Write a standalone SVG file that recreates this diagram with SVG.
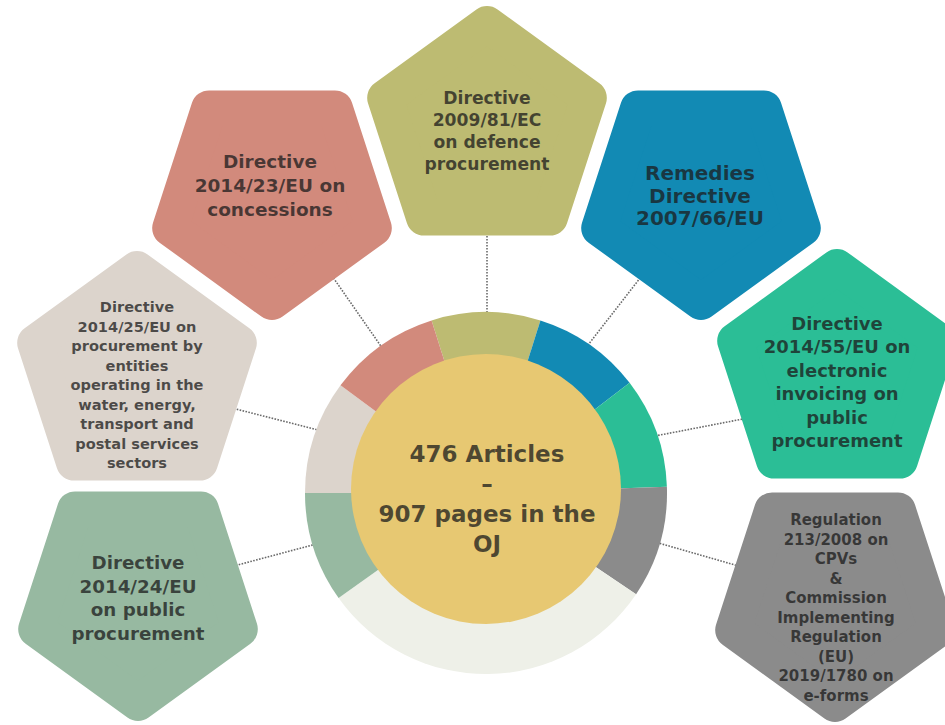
<svg xmlns="http://www.w3.org/2000/svg" width="945" height="725" viewBox="0 0 945 725">
<style>
.t{font-family:"DejaVu Sans","Liberation Sans",sans-serif;font-weight:700;text-anchor:middle;fill:#1c1c1c;fill-opacity:.76}
.shape{stroke-width:36;stroke-linejoin:round}
.conn{stroke:#6a6a6a;stroke-width:1.6;stroke-dasharray:1.6 1.4;fill:none}
</style>
<defs>
<polygon id="pd" points="0,107 -101.8,33.1 -62.9,-86.6 62.9,-86.6 101.8,33.1"/>
<polygon id="pu" points="0,-107 101.8,-33.1 62.9,86.6 -62.9,86.6 -101.8,-33.1"/>
</defs>
<rect width="945" height="725" fill="#ffffff"/>
<g id="connectors" class="conn">
<line x1="330" y1="273" x2="385" y2="352"/>
<line x1="487" y1="230" x2="487" y2="320"/>
<line x1="644" y1="273" x2="588" y2="345"/>
<line x1="748" y1="418" x2="655" y2="436"/>
<line x1="742" y1="567" x2="655" y2="542"/>
<line x1="228" y1="407" x2="322" y2="431"/>
<line x1="230" y1="567" x2="320" y2="543"/>
</g>
<g id="donut">
<path d="M486,493 L431.6,320.4 A181,181 0 0 1 540.4,320.4 Z" fill="#BDBB72"/>
<path d="M486,493 L540.4,320.4 A181,181 0 0 1 629.6,382.8 Z" fill="#128AB4"/>
<path d="M486,493 L629.6,382.8 A181,181 0 0 1 666.9,486.7 Z" fill="#2BBE96"/>
<path d="M486,493 L666.9,486.7 A181,181 0 0 1 636.1,594.2 Z" fill="#8B8B8B"/>
<path d="M486,493 L636.1,594.2 A181,181 0 0 1 338.6,598.1 Z" fill="#EEF0E8"/>
<path d="M486,493 L338.6,598.1 A181,181 0 0 1 305,493 Z" fill="#97B9A1"/>
<path d="M486,493 L305,493 A181,181 0 0 1 340.5,385.3 Z" fill="#DCD4CC"/>
<path d="M486,493 L340.5,385.3 A181,181 0 0 1 431.6,320.4 Z" fill="#D28A7C"/>
<circle cx="486" cy="489" r="135" fill="#E7C872"/>
<g class="t" font-size="23">
<text x="487" y="462">476 Articles</text>
<text x="487" y="492">–</text>
<text x="487" y="522">907 pages in the</text>
<text x="487" y="552">OJ</text>
</g>
</g>
<g id="n-concessions">
<use href="#pd" x="272" y="195" class="shape" fill="#D28A7C" stroke="#D28A7C"/>
<g class="t" font-size="18.5">
<text x="270" y="168">Directive</text>
<text x="270" y="192">2014/23/EU on</text>
<text x="270" y="216">concessions</text>
</g>
</g>
<g id="n-defence">
<use href="#pu" x="487" y="131" class="shape" fill="#BDBB72" stroke="#BDBB72"/>
<g class="t" font-size="17.2">
<text x="487" y="104">Directive</text>
<text x="487" y="126">2009/81/EC</text>
<text x="487" y="148">on defence</text>
<text x="487" y="170">procurement</text>
</g>
</g>
<g id="n-remedies">
<use href="#pd" x="701" y="195" class="shape" fill="#128AB4" stroke="#128AB4"/>
<g class="t" font-size="20">
<text x="700" y="180">Remedies</text>
<text x="700" y="203">Directive</text>
<text x="700" y="225">2007/66/EU</text>
</g>
</g>
<g id="n-einvoicing">
<use href="#pu" x="837" y="374" class="shape" fill="#2BBE96" stroke="#2BBE96"/>
<g class="t" font-size="18">
<text x="837" y="330">Directive</text>
<text x="837" y="353">2014/55/EU on</text>
<text x="837" y="377">electronic</text>
<text x="837" y="400">invoicing on</text>
<text x="837" y="424">public</text>
<text x="837" y="447">procurement</text>
</g>
</g>
<g id="n-cpv">
<use href="#pd" x="835" y="597" class="shape" fill="#8B8B8B" stroke="#8B8B8B"/>
<g class="t" font-size="15">
<text x="836" y="525">Regulation</text>
<text x="836" y="544.5">213/2008 on</text>
<text x="836" y="564">CPVs</text>
<text x="836" y="583.5">&amp;</text>
<text x="836" y="603">Commission</text>
<text x="836" y="622.5">Implementing</text>
<text x="836" y="642">Regulation</text>
<text x="836" y="661.5">(EU)</text>
<text x="836" y="681">2019/1780 on</text>
<text x="836" y="700.5">e-forms</text>
</g>
</g>
<g id="n-utilities">
<use href="#pu" x="137" y="376" class="shape" fill="#DCD4CC" stroke="#DCD4CC"/>
<g class="t" font-size="14.6">
<text x="137" y="312">Directive</text>
<text x="137" y="331.5">2014/25/EU on</text>
<text x="137" y="351">procurement by</text>
<text x="137" y="370.5">entities</text>
<text x="137" y="390">operating in the</text>
<text x="137" y="409.5">water, energy,</text>
<text x="137" y="429">transport and</text>
<text x="137" y="448.5">postal services</text>
<text x="137" y="468">sectors</text>
</g>
</g>
<g id="n-public">
<use href="#pd" x="138" y="596" class="shape" fill="#97B9A1" stroke="#97B9A1"/>
<g class="t" font-size="18.3">
<text x="138" y="569">Directive</text>
<text x="138" y="592.5">2014/24/EU</text>
<text x="138" y="616">on public</text>
<text x="138" y="640">procurement</text>
</g>
</g>
</svg>
